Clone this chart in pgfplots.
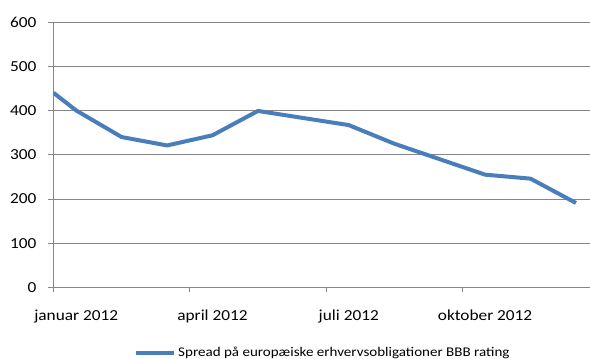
\documentclass[border=0pt]{standalone}
\usepackage{fontspec}
\setmainfont{Carlito}[FakeStretch=1.13]
\usepackage{pgfplots}
\pgfplotsset{compat=1.18}
\definecolor{excelblue}{RGB}{74,126,187}
\definecolor{gridgray}{RGB}{134,134,134}
\begin{document}
\begin{tikzpicture}
\useasboundingbox (-53.5pt,-71.5pt) rectangle (536.5pt,287.5pt);
\begin{axis}[
  at={(0pt,0pt)}, anchor=south west,
  scale only axis, width=537pt, height=265.5pt,
  xmin=0, xmax=11.82, ymin=0, ymax=600,
  /pgf/number format/assume math mode=true,
  axis x line*=bottom, axis y line*=left,
  axis line style={gridgray, line width=1pt},
  ytick={0,100,...,600},
  ymajorgrids, grid style={gridgray, line width=1pt},
  tick style={gridgray, line width=0.8pt},
  tick align=outside,
  major tick length=5pt,
  xtick={0.5,3.5,6.5,9.5},
  xticklabels={januar 2012, april 2012, juli 2012, oktober 2012},
  x tick style={draw=none},
  extra x ticks={0,3,6,9},
  extra x tick labels={},
  extra x tick style={x tick style={draw=gridgray}, major tick length=4pt, grid=none},
  tick label style={font=\fontsize{15.3}{18}\selectfont, text=black},
  x tick label style={inner sep=0pt, yshift=-17pt},
  y tick label style={inner sep=0pt, xshift=-12pt},
  legend style={at={(axis description cs:0.1500,-0.2467)}, anchor=west,
    draw=none, fill=none, inner sep=0pt,
    font=\fontsize{13.3}{15}\selectfont},
  legend image code/.code={\draw[#1] (0pt,0pt) -- (38pt,0pt);},
]
\addplot[excelblue, line width=4pt, line join=round] coordinates {
(0,440) (0.5,400) (1.5,340) (2.5,321) (3.5,344) (4.5,399) (5.5,383)
(6.5,367) (7.5,325) (8.5,290) (9.5,255) (10.5,246) (11.5,191)
};
\addlegendentry{Spread på europæiske erhvervsobligationer BBB rating}
\end{axis}
\end{tikzpicture}
\end{document}
